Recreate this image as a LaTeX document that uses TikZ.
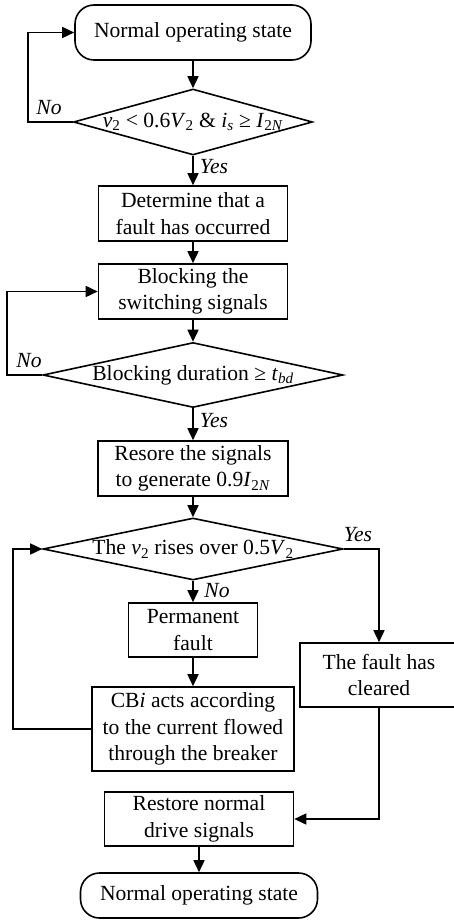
\documentclass[tikz,border=0pt]{standalone}
\usepackage{fontspec}
\setmainfont{Liberation Serif}
\usetikzlibrary{shapes.geometric,arrows.meta}
\tikzset{
  proc/.style={draw,line width=1.6pt,align=center,inner sep=2pt},
  term/.style={draw,line width=1.6pt,rounded corners=19pt},
  decide/.style={draw,diamond,line width=1.6pt,inner sep=0pt},
  flow/.style={line width=1.6pt,-{Triangle[length=12pt,width=11pt]}},
  tag/.style={font=\fontsize{21.6}{26.5}\selectfont\itshape},
}

\begin{document}
\begin{tikzpicture}[x=1pt,y=-1pt,font=\fontsize{21.6}{26.5}\selectfont]
\useasboundingbox (0,0) rectangle (453,920);
% fault detection
\node[term,minimum width=236pt,minimum height=55pt] (start) at (193,32.5) {Normal operating state};
\node[decide,minimum width=239pt,minimum height=66pt,
  label=center:{\textit{v}\textsubscript{2} < 0.6\textit{V}\textsubscript{2} \& \textit{i}\textsubscript{\textit{s}} ≥ \textit{I}\textsubscript{2\textit{N}}}] (chk1) at (193,122) {};
\node[proc,minimum width=189pt,minimum height=55pt] (found) at (193,213.5) {Determine that a\\fault has occurred};
\node[proc,minimum width=189pt,minimum height=55pt] (block) at (193,291.5) {Blocking the\\switching signals};
\node[decide,minimum width=300pt,minimum height=65pt,
  label=center:{Blocking duration ≥ \textit{t}\textsubscript{\textit{bd}}}] (chk2) at (193,375) {};
% restoring
\node[proc,minimum width=190pt,minimum height=55pt] (resore) at (193,468.5) {Resore the signals\\to generate 0.9\textit{I}\textsubscript{2\textit{N}}};
\node[decide,minimum width=300pt,minimum height=62pt,
  label=center:{The \textit{v}\textsubscript{2} rises over 0.5\textit{V}\textsubscript{2}}] (chk3) at (193,549) {};
\node[proc,minimum width=129pt,minimum height=54pt] (perm) at (193,630) {Permanent\\fault};
\node[proc,minimum width=202pt,minimum height=84pt] (cbi) at (193,729) {CB\textit{i} acts according\\to the current flowed\\through the breaker};
\node[proc,minimum width=158pt,minimum height=64pt] (clear) at (379,675) {The fault has\\cleared};
\node[proc,minimum width=189pt,minimum height=54pt] (drive) at (199,819) {Restore normal\\drive signals};
\node[term,minimum width=237pt,minimum height=45pt] (stop) at (199,895.5) {Normal operating state};
% branch labels
\node[tag] (no1) at (49,108) {No};
\node[tag] (yes1) at (214,167) {Yes};
\node[tag] (no2) at (29,361) {No};
\node[tag] (yes2) at (214,421) {Yes};
\node[tag] (yes3) at (358,535) {Yes};
\node[tag] (no3) at (217,591) {No};
% connectors
\draw[flow] (start) -- (chk1);
\draw[flow] (chk1) -- (found);
\draw[flow] (found) -- (block);
\draw[flow] (block) -- (chk2);
\draw[flow] (chk2) -- (resore);
\draw[flow] (resore) -- (chk3);
\draw[flow] (chk3) -- (perm);
\draw[flow] (perm) -- (cbi);
\draw[flow] (drive) -- (stop);
\draw[flow] (chk1.west) -- ++(-45,0) |- (start.west);
\draw[flow] (chk2.west) -- ++(-35,0) |- (block.west);
\draw[flow] (cbi.west) -- ++(-78,0) |- (chk3.west);
\draw[flow] (chk3.east) -| (clear.north);
\draw[flow] (clear.south) |- (drive.east);
\end{tikzpicture}
\end{document}
